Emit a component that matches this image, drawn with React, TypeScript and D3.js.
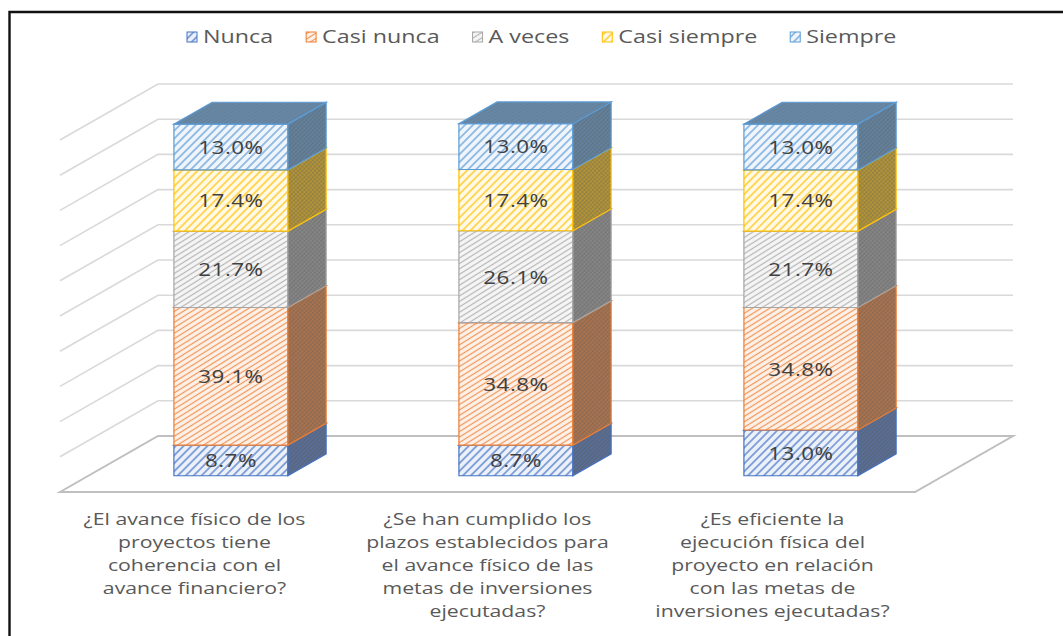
import React, { useEffect, useRef } from "react";
import * as d3 from "d3";

const categories = ["q1", "q2", "q3"];
const categoryLines = [
  ["¿El avance físico de los", "proyectos tiene", "coherencia con el", "avance financiero?"],
  ["¿Se han cumplido los", "plazos establecidos para", "el avance físico de las", "metas de inversiones", "ejecutadas?"],
  ["¿Es eficiente la", "ejecución física del", "proyecto en relación", "con las metas de", "inversiones ejecutadas?"],
];
const seriesNames = ["Nunca", "Casi nunca", "A veces", "Casi siempre", "Siempre"];
const nunca = [8.7, 8.7, 13.0];
const casiNunca = [39.1, 34.8, 34.8];
const aVeces = [21.7, 26.1, 21.7];
const casiSiempre = [17.4, 17.4, 17.4];
const siempre = [13.0, 13.0, 13.0];
const seriesValues = [nunca, casiNunca, aVeces, casiSiempre, siempre];
const seriesColors = ["#4472C4", "#ED7D31", "#A5A5A5", "#FFC000", "#5B9BD5"];
const gridTicks = [0, 10, 20, 30, 40, 50, 60, 70, 80, 90, 100];

const W = 1063;
const H = 636;
const FLOOR_Y = 492;
const DX = 98;
const DY = 56;
const D0 = 0.29;
const D1 = 0.68;
const FONT = "'Open Sans', 'DejaVu Sans', sans-serif";

export default function App() {
  const ref = useRef<SVGSVGElement | null>(null);

  useEffect(() => {
    const svg = d3.select(ref.current);
    svg.selectAll("*").remove();

    const x = d3.scaleBand<string>().domain(categories).range([60, 915]).paddingInner(0.6).paddingOuter(0.3);
    const y = d3.scaleLinear().domain([0, 100]).range([0, 352]);
    const proj = (xf: number, v: number, d: number): [number, number] => [xf + d * DX, FLOOR_Y - y(v) - d * DY];

    const defs = svg.append("defs");
    seriesColors.forEach((c, i) => {
      const dense = i === 1 || i === 2;
      const sp = dense ? 4.6 : 5.6;
      const pf = defs.append("pattern").attr("id", `front${i}`).attr("patternUnits", "userSpaceOnUse")
        .attr("width", 10).attr("height", sp).attr("patternTransform", `rotate(${dense ? -32 : -45})`);
      pf.append("rect").attr("width", 10).attr("height", sp).attr("fill", d3.interpolateRgb("#ffffff", c)(0.1));
      pf.append("line").attr("x1", 0).attr("x2", 10).attr("y1", sp / 2).attr("y2", sp / 2)
        .attr("stroke", c).attr("stroke-width", dense ? 1.2 : 1.5).attr("stroke-opacity", 0.8);

      const ps = defs.append("pattern").attr("id", `side${i}`).attr("patternUnits", "userSpaceOnUse")
        .attr("width", 3).attr("height", 3).attr("patternTransform", "rotate(45)");
      ps.append("rect").attr("width", 3).attr("height", 3).attr("fill", d3.interpolateRgb(c, "#6a6a6a")(0.62));
      ps.append("line").attr("x1", 0).attr("x2", 3).attr("y1", 1.5).attr("y2", 1.5).attr("stroke", c).attr("stroke-opacity", 0.3).attr("stroke-width", 0.8);
      ps.append("line").attr("y1", 0).attr("y2", 3).attr("x1", 1.5).attr("x2", 1.5).attr("stroke", "#444").attr("stroke-opacity", 0.25).attr("stroke-width", 0.8);

      const pt = defs.append("pattern").attr("id", `top${i}`).attr("patternUnits", "userSpaceOnUse")
        .attr("width", 3).attr("height", 3).attr("patternTransform", "rotate(-30)");
      pt.append("rect").attr("width", 3).attr("height", 3).attr("fill", d3.interpolateRgb(c, "#707070")(0.58));
      pt.append("line").attr("x1", 0).attr("x2", 3).attr("y1", 1.5).attr("y2", 1.5).attr("stroke", c).attr("stroke-opacity", 0.4).attr("stroke-width", 0.9);
    });

    svg.append("rect").attr("width", W).attr("height", H).attr("fill", "#fff");
    svg.append("path").attr("d", `M9.5,${H} V12 H${W}`).attr("fill", "none").attr("stroke", "#111").attr("stroke-width", 2.4);

    // walls
    const xr0 = x.range()[0];
    const xr1 = x.range()[1];
    const grid = svg.append("g");
    gridTicks.filter((t) => t > 0).forEach((t) => {
      const a = proj(xr0, t, 0);
      const b = proj(xr0, t, 1);
      const c2 = proj(xr1, t, 1);
      grid.append("path").attr("d", `M${a[0]},${a[1]} L${b[0]},${b[1]} L${c2[0]},${c2[1]}`)
        .attr("fill", "none").attr("stroke", "#d9d9d9").attr("stroke-width", 1.6);
    });
    const f0 = proj(xr0, 0, 0), f1 = proj(xr0, 0, 1), f2 = proj(xr1, 0, 1), f3 = proj(xr1, 0, 0);
    grid.append("path").attr("d", `M${f0[0]},${f0[1]} L${f1[0]},${f1[1]} L${f2[0]},${f2[1]} L${f3[0]},${f3[1]} Z`)
      .attr("fill", "none").attr("stroke", "#bfbfbf").attr("stroke-width", 2);

    // bars
    const bars = svg.append("g");
    categories.forEach((cat, ci) => {
      const xl = x(cat)!;
      const xrr = xl + x.bandwidth();
      let cum = 0;
      seriesValues.forEach((vals, si) => {
        const v0 = cum;
        const v1 = cum + vals[ci];
        cum = v1;
        const c = seriesColors[si];
        const p = (xx: number, v: number, d: number) => proj(xx, v, d).join(",");
        const g = bars.append("g");
        g.append("path").attr("d", `M${p(xl, v0, D0)} L${p(xrr, v0, D0)} L${p(xrr, v1, D0)} L${p(xl, v1, D0)} Z`)
          .attr("fill", `url(#front${si})`).attr("stroke", c).attr("stroke-width", 1.2);
        g.append("path").attr("d", `M${p(xrr, v0, D0)} L${p(xrr, v0, D1)} L${p(xrr, v1, D1)} L${p(xrr, v1, D0)} Z`)
          .attr("fill", `url(#side${si})`).attr("stroke", c).attr("stroke-width", 1.2);
        g.append("path").attr("d", `M${p(xl, v1, D0)} L${p(xrr, v1, D0)} L${p(xrr, v1, D1)} L${p(xl, v1, D1)} Z`)
          .attr("fill", `url(#top${si})`).attr("stroke", c).attr("stroke-width", 1.2);
      });
      // labels
      cum = 0;
      seriesValues.forEach((vals) => {
        const v0 = cum;
        const v1 = cum + vals[ci];
        cum = v1;
        const [lx, ly] = proj((xl + xrr) / 2, (v0 + v1) / 2, D0);
        bars.append("g").attr("transform", `translate(${lx},${ly}) scale(1.18,1)`)
          .append("text").attr("text-anchor", "middle").attr("dy", "0.36em")
          .attr("font-family", FONT).attr("font-size", 19).attr("letter-spacing", 0.4).attr("fill", "#404040")
          .text(d3.format(".1f")(vals[ci]) + "%");
      });
    });

    // category labels
    const xa = svg.append("g");
    categories.forEach((cat, ci) => {
      const cx = x(cat)! + x.bandwidth() / 2 - (ci === 0 ? 8 : 0);
      const t = xa.append("g").attr("transform", `translate(${cx},0) scale(1.25,1)`)
        .append("text").attr("text-anchor", "middle").attr("font-family", FONT).attr("font-size", 17)
        .attr("fill", "#595959");
      categoryLines[ci].forEach((ln, li) => {
        t.append("tspan").attr("x", 0).attr("y", 525 + li * 23).text(ln);
      });
    });

    // legend
    const leg = svg.append("g");
    const LS = 1.33;
    let lxp = 187;
    seriesNames.forEach((n, i) => {
      leg.append("rect").attr("x", lxp).attr("y", 32).attr("width", 10).attr("height", 10)
        .attr("fill", `url(#front${i})`).attr("stroke", seriesColors[i]).attr("stroke-width", 1);
      const t = leg.append("g").attr("transform", `translate(${lxp + 16},37) scale(${LS},1)`)
        .append("text").attr("dy", "0.36em")
        .attr("font-family", FONT).attr("font-size", 17.5).attr("fill", "#595959").text(n);
      const w = (t.node() as SVGTextElement).getComputedTextLength() * LS;
      lxp = lxp + 16 + w + 33;
    });
  }, []);

  return (
    <svg ref={ref} width={W} height={H} style={{ position: "absolute", left: 0, top: 0, display: "block" }} />
  );
}
